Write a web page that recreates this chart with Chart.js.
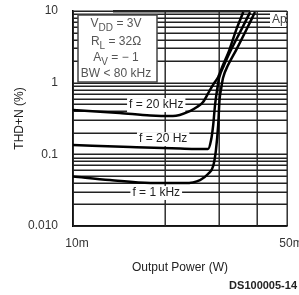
<!DOCTYPE html>
<html>
<head>
<meta charset="utf-8">
<script src="https://cdn.jsdelivr.net/npm/chart.js@4.4.1/dist/chart.umd.min.js"></script>
<style>
    html, body { margin: 0; padding: 0; background: #fff; }
    #wrap { width: 299px; height: 295px; }
</style>
</head>
<body>
<div id="wrap"><canvas id="thdChart" width="299" height="295"></canvas></div>
<script>
// Output power (mW) and THD+N (%)
const power20k = [10, 14.2, 17.9, 21.2, 24.1, 25.4, 26.6, 28.0, 28.9, 29.8, 30.9, 32.4, 34.1, 36.0];
const thd20k   = [0.415, 0.377, 0.348, 0.342, 0.402, 0.457, 0.536, 0.789, 0.987, 1.20, 1.76, 2.85, 5.42, 9.66];

const power20 = [10, 15.4, 22.4, 27.6, 28.25, 28.7, 29.1, 29.55, 30.0, 31.15, 32.8, 35.4, 37.9];
const thd20   = [0.135, 0.1265, 0.1205, 0.1186, 0.158, 0.256, 0.487, 0.789, 1.16, 1.76, 2.85, 5.42, 9.66];

const power1k = [10, 13.2, 17.9, 23.2, 26.0, 27.6, 28.7, 29.3, 29.8, 30.1, 30.5, 30.9, 32.1, 34.1, 36.8, 39.3];
const thd1k   = [0.049, 0.0438, 0.0398, 0.0398, 0.0438, 0.0531, 0.0687, 0.1148, 0.256, 0.572, 0.841, 1.16, 1.76, 2.85, 5.42, 9.66];

const xTicks = [10, 20, 30, 40, 50];
const xTickLabels = { 10: '10m', 50: '50m' };
const yTicks = [0.01, 0.02, 0.03, 0.04, 0.05, 0.06, 0.07, 0.08, 0.09,
                0.1, 0.2, 0.3, 0.4, 0.5, 0.6, 0.7, 0.8, 0.9,
                1, 2, 3, 4, 5, 6, 7, 8, 9, 10];
const yTickLabels = { 0.01: '0.010', 0.1: '0.1', 1: '1', 10: '10' };

const curveLabels = [
    { text: 'f = 20 kHz', x: 18.7, y: 0.487 },
    { text: 'f = 20 Hz', x: 19.7, y: 0.163 },
    { text: 'f = 1 kHz', x: 18.7, y: 0.0289 }
];

const FONT = '"Liberation Sans", Arial, sans-serif';

function toPoints(xs, ys) {
    return xs.map((x, i) => ({ x: x, y: ys[i] }));
}

function curve(label, xs, ys) {
    return {
        label: label,
        data: toPoints(xs, ys),
        borderColor: '#000',
        borderWidth: 2.5,
        pointRadius: 0,
        fill: false,
        cubicInterpolationMode: 'monotone'
    };
}

// Grid, text boxes, condition box and figure number
const extras = {
    id: 'extras',
    beforeDatasetsDraw(chart) {
        const ctx = chart.ctx;
        const area = chart.chartArea;
        const xs = chart.scales.x;
        const ys = chart.scales.y;
        ctx.save();

        // grid lines at every tick value (soft, like the scanned original)
        ctx.strokeStyle = '#222';
        ctx.lineWidth = 1.4;
        ctx.beginPath();
        yTicks.forEach(v => {
            const py = Math.round(ys.getPixelForValue(v)) + 0.2;
            ctx.moveTo(area.left, py);
            ctx.lineTo(area.right, py);
        });
        xTicks.forEach(v => {
            const px = Math.round(xs.getPixelForValue(v)) + 0.2;
            ctx.moveTo(px, area.top);
            ctx.lineTo(px, area.bottom);
        });
        ctx.stroke();

        // curve labels on white
        ctx.font = '12px ' + FONT;
        ctx.textBaseline = 'middle';
        ctx.textAlign = 'center';
        curveLabels.forEach(l => {
            const px = xs.getPixelForValue(l.x);
            const py = ys.getPixelForValue(l.y);
            const tw = ctx.measureText(l.text).width;
            ctx.fillStyle = '#fff';
            ctx.fillRect(px - tw / 2 - 2, py - 7, tw + 4, 14);
            ctx.fillStyle = '#222';
            ctx.fillText(l.text, px, py);
        });

        // condition box
        const bx = area.left + 5, by = area.top + 4, bw = 79, bh = 67;
        ctx.fillStyle = '#fff';
        ctx.fillRect(bx, by, bw, bh);
        ctx.strokeStyle = '#444';
        ctx.lineWidth = 1.5;
        ctx.strokeRect(bx, by, bw, bh);

        const lines = [
            [['V', 0], ['DD', 1], [' = 3V', 0]],
            [['R', 0], ['L', 1], [' = 32\u03a9', 0]],
            [['A', 0], ['V', 1], [' = \u2212 1', 0]],
            [['BW < 80 kHz', 0]]
        ];
        const rowY = [9, 27, 43, 59];
        ctx.textAlign = 'left';
        ctx.fillStyle = '#555';
        lines.forEach((parts, i) => {
            let total = 0;
            parts.forEach(p => {
                ctx.font = (p[1] ? '10px ' : '12px ') + FONT;
                total += ctx.measureText(p[0]).width;
            });
            let cx = bx + 38 - total / 2;
            parts.forEach(p => {
                ctx.font = (p[1] ? '10px ' : '12px ') + FONT;
                ctx.fillText(p[0], cx, by + rowY[i] + (p[1] ? 4 : 0));
                cx += ctx.measureText(p[0]).width;
            });
        });

        // "Ap" mark
        ctx.fillStyle = '#fff';
        ctx.fillRect(area.right - 17, area.top + 2, 16, 14);
        ctx.fillStyle = '#444';
        ctx.font = '12px ' + FONT;
        ctx.fillText('Ap', area.right - 15, area.top + 9);

        // heavier stretch of the top frame
        ctx.fillStyle = '#222';
        ctx.fillRect(area.left + 40, area.top - 1, 137, 2.5);
        ctx.restore();
    },
    afterDraw(chart) {
        const ctx = chart.ctx;
        ctx.save();
        ctx.font = 'bold 11px ' + FONT;
        ctx.fillStyle = '#222';
        ctx.textAlign = 'right';
        ctx.textBaseline = 'middle';
        ctx.fillText('DS100005-14', 297, 286);
        ctx.restore();
    }
};

const ctx = document.getElementById('thdChart').getContext('2d');
const chart = new Chart(ctx, {
    type: 'line',
    data: {
        datasets: [
            curve('f = 20 kHz', power20k, thd20k),
            curve('f = 20 Hz', power20, thd20),
            curve('f = 1 kHz', power1k, thd1k)
        ]
    },
    options: {
        responsive: false,
        animation: false,
        devicePixelRatio: 1,
        layout: { padding: { left: 12, right: 12, top: 11, bottom: 20 } },
        plugins: {
            legend: { display: false },
            tooltip: { enabled: false }
        },
        scales: {
            x: {
                type: 'logarithmic',
                min: 10,
                max: 50,
                afterBuildTicks: s => { s.ticks = xTicks.map(v => ({ value: v })); },
                afterFit: s => { s.height = 49; s.paddingLeft = 0; s.paddingRight = 0; },
                ticks: {
                    callback: v => xTickLabels[v] || '',
                    autoSkip: false,
                    maxRotation: 0,
                    padding: 2,
                    labelOffset: 4,
                    color: '#333',
                    font: { family: FONT, size: 12 }
                },
                grid: { display: false },
                border: { color: '#000', width: 1.5 },
                title: {
                    display: true,
                    text: 'Output Power (W)',
                    color: '#222',
                    padding: 0,
                    font: { family: FONT, size: 12 }
                }
            },
            y: {
                type: 'logarithmic',
                min: 0.01,
                max: 10,
                afterBuildTicks: s => { s.ticks = yTicks.map(v => ({ value: v })); },
                afterFit: s => { s.width = 61; s.paddingTop = 0; s.paddingBottom = 0; },
                ticks: {
                    callback: v => yTickLabels[v] || '',
                    autoSkip: false,
                    padding: 7,
                    color: '#333',
                    font: { family: FONT, size: 12 }
                },
                grid: { display: false },
                border: { color: '#000', width: 1.5 },
                title: {
                    display: true,
                    text: 'THD+N (%)',
                    color: '#222',
                    padding: 0,
                    font: { family: FONT, size: 12 }
                }
            }
        }
    },
    plugins: [extras]
});
</script>
</body>
</html>
